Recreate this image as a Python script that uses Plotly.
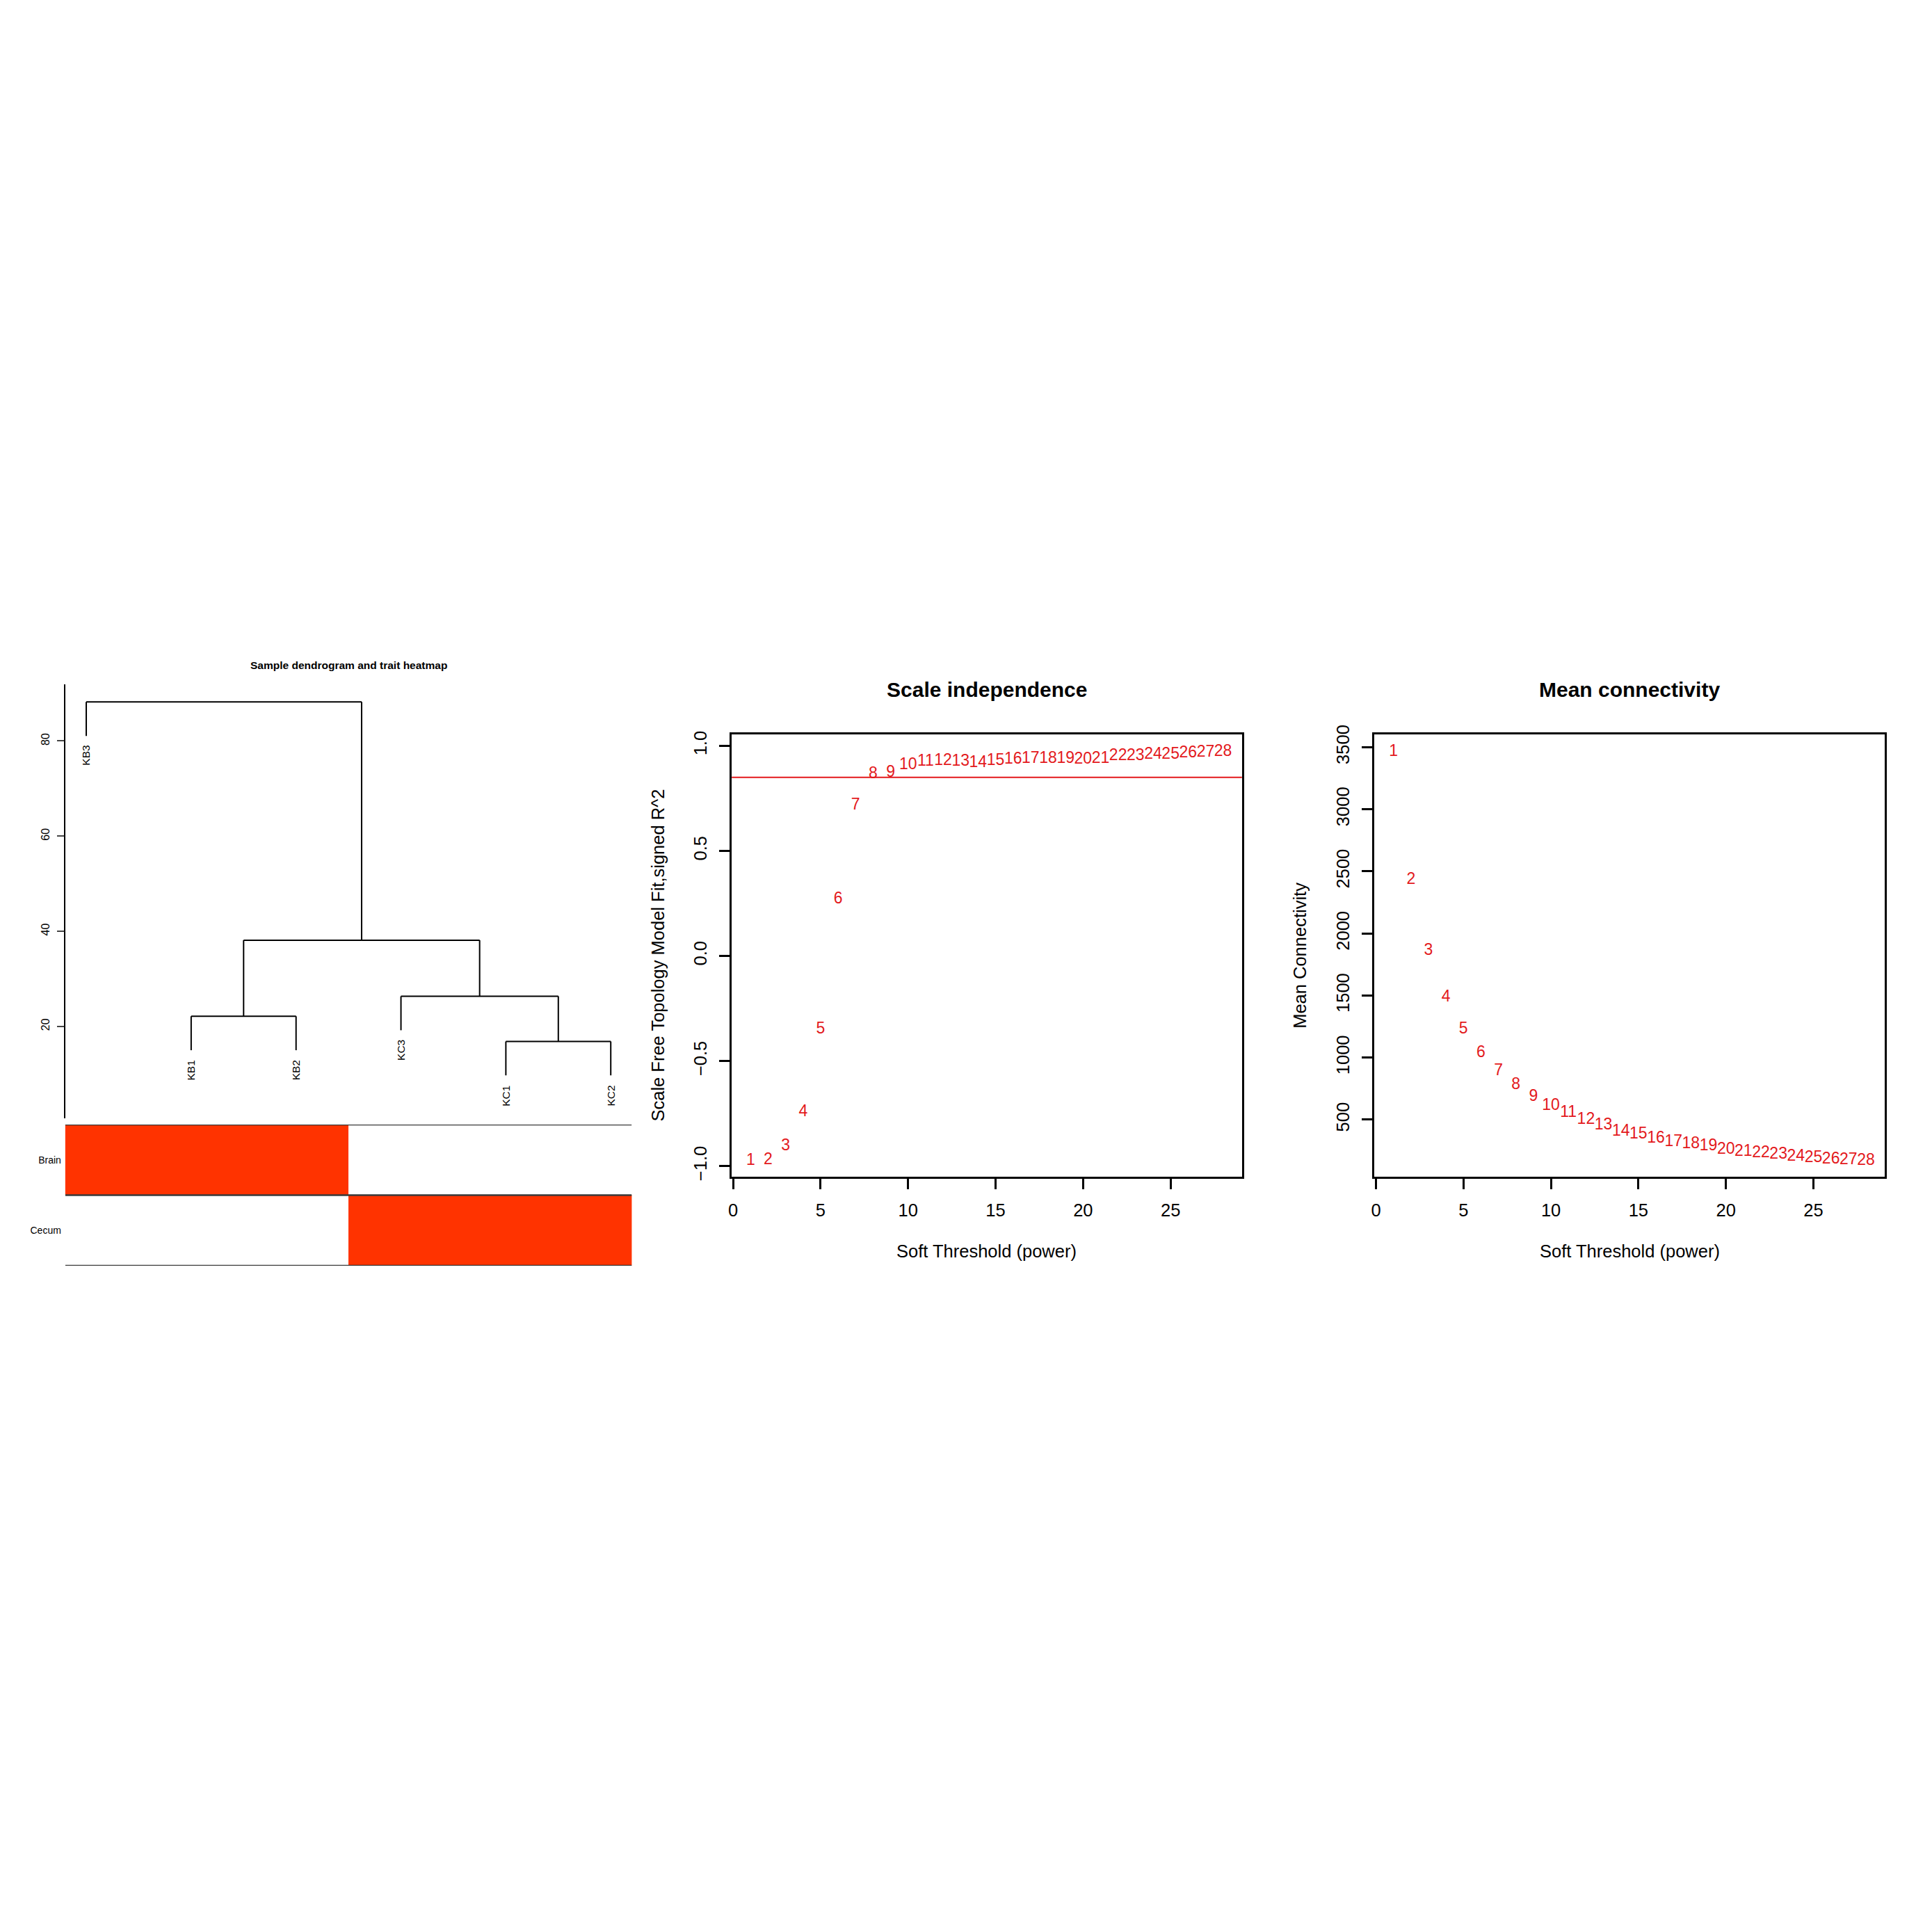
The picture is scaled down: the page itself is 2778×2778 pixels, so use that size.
import plotly.graph_objects as go

W = H = 2778
OFF = 11  # page offset compensation
FONT = "Liberation Sans, Arial, Helvetica, sans-serif"
RED = "#e3191c"
TRAIT_RED = "#FF3300"

# ---------------- data ----------------
leaf_labels = ["KB3", "KB1", "KB2", "KC3", "KC1", "KC2"]
# hclust-style merges: negative = leaf position (1-based, in plotted order), positive = earlier merge
merge_left = [-5, -2, -4, 2, -1]
merge_right = [-6, -3, 1, 3, 4]
merge_height = [16.8, 22.1, 26.3, 38.1, 88.2]
hang_frac = 0.1
dendro_yticks = [20, 40, 60, 80]

trait_names = ["Brain", "Cecum"]
trait_brain = [1, 1, 1, 0, 0, 0]
trait_cecum = [0, 0, 0, 1, 1, 1]

powers = list(range(1, 29))
sft_signed_r2 = [-0.976, -0.971, -0.905, -0.744, -0.349, 0.268, 0.716, 0.865, 0.872,
                 0.907, 0.926, 0.927, 0.923, 0.918, 0.928, 0.934, 0.939, 0.939, 0.937,
                 0.934, 0.939, 0.950, 0.950, 0.958, 0.958, 0.963, 0.966, 0.972]
mean_connectivity = [3463, 2430, 1857, 1483, 1228, 1036, 893, 781, 685, 610, 552, 498,
                     452, 405, 380, 349, 320, 302, 284, 257, 243, 230, 217, 199, 190,
                     180, 175, 168]
r2_cut = 0.85
x_ticks = [0, 5, 10, 15, 20, 25]
r2_ticks = [-1.0, -0.5, 0.0, 0.5, 1.0]
k_ticks = [500, 1000, 1500, 2000, 2500, 3000, 3500]


def fx(px):
    return (px - OFF) / W


def fy(py):
    return 1 - (py - OFF) / H


fig = go.Figure()

# ---------------- dendrogram ----------------
hang = hang_frac * (max(merge_height) - min(merge_height))
node_x, node_h = {}, {}
seg_x, seg_y = [], []
leaf_end = {}
for i, (l, r, h) in enumerate(zip(merge_left, merge_right, merge_height), start=1):
    xs = []
    for c in (l, r):
        if c < 0:
            cx, ch = -c, h - hang
            leaf_end[-c] = ch
        else:
            cx, ch = node_x[c], node_h[c]
        seg_x += [cx, cx, None]
        seg_y += [ch, h, None]
        xs.append(cx)
    seg_x += [xs[0], xs[1], None]
    seg_y += [h, h, None]
    node_x[i] = (xs[0] + xs[1]) / 2
    node_h[i] = h

fig.add_trace(go.Scatter(x=seg_x, y=seg_y, mode="lines", xaxis="x", yaxis="y",
                         line=dict(color="black", width=2), hoverinfo="skip",
                         cliponaxis=False))

for pos, lab in enumerate(leaf_labels, start=1):
    fig.add_annotation(x=pos, y=leaf_end[pos], xref="x", yref="y", text=lab,
                       textangle=-90, showarrow=False, xanchor="center", yanchor="top",
                       yshift=-12, font=dict(family=FONT, size=15.5, color="black"))

# ---------------- trait heatmap ----------------
fig.add_trace(go.Heatmap(x=list(range(1, len(leaf_labels) + 1)), y=[0.5, 1.5],
                         z=[trait_cecum, trait_brain], zmin=0, zmax=1,
                         colorscale=[[0, "white"], [1, TRAIT_RED]], showscale=False,
                         xaxis="x2", yaxis="y2", hoverinfo="skip"))
for yb in (0, 1, 2):
    fig.add_trace(go.Scatter(x=[0.8, 6.2], y=[yb, yb], mode="lines", xaxis="x2", yaxis="y2",
                             line=dict(color="#3a3a3a", width=2.5), hoverinfo="skip",
                             cliponaxis=False))

# ---------------- scale independence ----------------
fig.add_trace(go.Scatter(x=powers, y=sft_signed_r2, mode="text", text=[str(p) for p in powers],
                         textposition="middle center", xaxis="x3", yaxis="y3",
                         textfont=dict(family=FONT, size=23, color=RED), cliponaxis=False))
fig.add_shape(type="line", xref="x3 domain", yref="y3", x0=0, x1=1, y0=r2_cut, y1=r2_cut,
              line=dict(color=RED, width=2.2))

# ---------------- mean connectivity ----------------
fig.add_trace(go.Scatter(x=powers, y=mean_connectivity, mode="text", text=[str(p) for p in powers],
                         textposition="middle center", xaxis="x4", yaxis="y4",
                         textfont=dict(family=FONT, size=23, color=RED), cliponaxis=False))

# ---------------- axes ----------------
box_axis = dict(showline=True, mirror=True, linecolor="black", linewidth=3,
                ticks="outside", ticklen=15, tickwidth=2.5, tickcolor="black",
                showgrid=False, zeroline=False,
                tickfont=dict(family=FONT, size=25.5, color="black"))

fig.update_layout(
    width=W, height=H, margin=dict(l=0, r=0, t=0, b=0),
    paper_bgcolor="white", plot_bgcolor="rgba(0,0,0,0)", showlegend=False,
    xaxis=dict(domain=[fx(92), fx(908)], range=[0.8, 6.2], visible=False, anchor="y"),
    yaxis=dict(domain=[fy(1609), fy(980)], range=[0.57, 91.9], anchor="x",
               showline=True, linecolor="black", linewidth=2, ticks="outside", ticklen=10,
               tickwidth=2, tickvals=dendro_yticks, tickangle=-90, showgrid=False,
               zeroline=False, ticklabelstandoff=4,
               tickfont=dict(family=FONT, size=16, color="black")),
    xaxis2=dict(domain=[fx(92), fx(908)], range=[0.8, 6.2], visible=False, anchor="y2"),
    yaxis2=dict(domain=[fy(1822), fy(1617.5)], range=[0, 2], anchor="x2",
                tickvals=[1.5, 0.5], ticktext=trait_names, ticks="", showline=False,
                showgrid=False, zeroline=False, ticklabelstandoff=5,
                tickfont=dict(family=FONT, size=14, color="black")),
    xaxis3=dict(domain=[fx(1052), fx(1787)], range=[-0.08, 29.08], anchor="y3",
                tickvals=x_ticks, ticklabelstandoff=9, **box_axis),
    yaxis3=dict(domain=[fy(1693), fy(1052)], range=[-1.050, 1.056], anchor="x3",
                tickvals=r2_ticks, tickformat=".1f", tickangle=-90, ticklabelstandoff=8,
                **box_axis),
    xaxis4=dict(domain=[fx(1978), fx(2713)], range=[-0.08, 29.08], anchor="y4",
                tickvals=x_ticks, ticklabelstandoff=9, **box_axis),
    yaxis4=dict(domain=[fy(1693), fy(1053)], range=[41, 3600], anchor="x4",
                tickvals=k_ticks, tickangle=-90, ticklabelstandoff=8, **box_axis),
)

# ---------------- titles ----------------
def ann(text, x, y, size, bold=False, angle=0):
    fig.add_annotation(x=fx(x), y=fy(y), xref="paper", yref="paper",
                       text=f"<b>{text}</b>" if bold else text, showarrow=False,
                       xanchor="center", yanchor="middle", textangle=angle,
                       font=dict(family=FONT, size=size, color="black"))

ann("Sample dendrogram and trait heatmap", 500, 952, 15.5, bold=True)
ann("Scale independence", 1419.5, 988, 30, bold=True)
ann("Mean connectivity", 2345.5, 988, 30, bold=True)
ann("Soft Threshold (power)", 1419.5, 1801, 25.5)
ann("Soft Threshold (power)", 2345.5, 1801, 25.5)
ann("Scale Free Topology Model Fit,signed R^2", 946, 1372, 25.5, angle=-90)
ann("Mean Connectivity", 1871, 1373, 25.5, angle=-90)

fig.write_html("out.html")
